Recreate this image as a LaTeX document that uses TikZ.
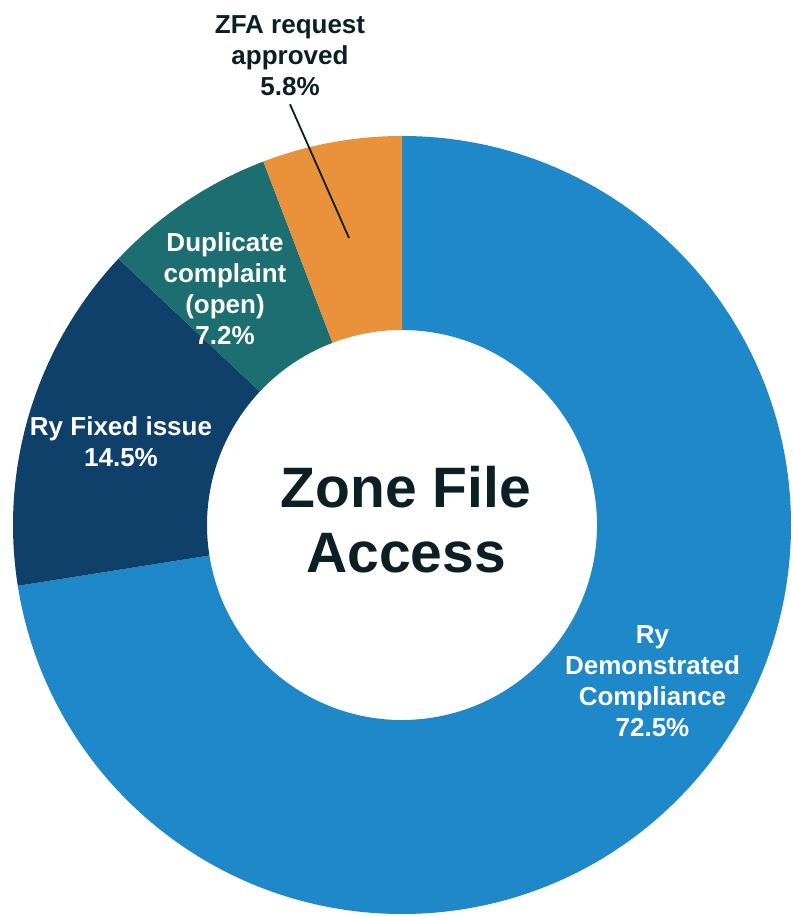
\documentclass[tikz,border=0pt]{standalone}
\usepackage{fontspec}
\setmainfont{Liberation Sans}
\definecolor{zfablue}{RGB}{30,136,200}
\definecolor{zfanavy}{RGB}{15,64,106}
\definecolor{zfateal}{RGB}{28,110,112}
\definecolor{zfaorange}{RGB}{234,145,60}
\definecolor{zfaink}{RGB}{11,31,36}
\begin{document}
\begin{tikzpicture}[x=1pt,y=1pt,
	lbl/.style={text=white,font=\bfseries\fontsize{26}{31}\selectfont,align=center,inner sep=0pt}]
	\useasboundingbox (-402,-392) rectangle (390,525);
	\foreach \from/\to/\col in {90/-171/zfablue,-171/-223.2/zfanavy,-223.2/-249.12/zfateal,-249.12/-270/zfaorange}
		\fill[\col] (\from:389) arc[start angle=\from,end angle=\to,radius=389] -- (\to:195) arc[start angle=\to,end angle=\from,radius=195] -- cycle;
	\node (ctr) [text=zfaink,font=\bfseries\fontsize{57}{65}\selectfont,align=center,inner sep=0pt] at (4,5) {Zone File\\Access};
	\node (comp) [lbl] at (250.5,-156) {Ry\\Demonstrated\\Compliance\\72.5\%};
	\node (fixed) [lbl] at (-281,83) {Ry Fixed issue\\14.5\%};
	\node (dup) [lbl] at (-177,236) {Duplicate\\complaint\\(open)\\7.2\%};
	\node (zfa) [lbl,text=zfaink,inner sep=8pt] at (-112,469) {ZFA request\\approved\\5.8\%};
	\coordinate (zfa-tip) at (-53,287);
	\draw[line width=1.8pt,zfaink] (zfa.south) -- (zfa-tip);
\end{tikzpicture}
\end{document}
